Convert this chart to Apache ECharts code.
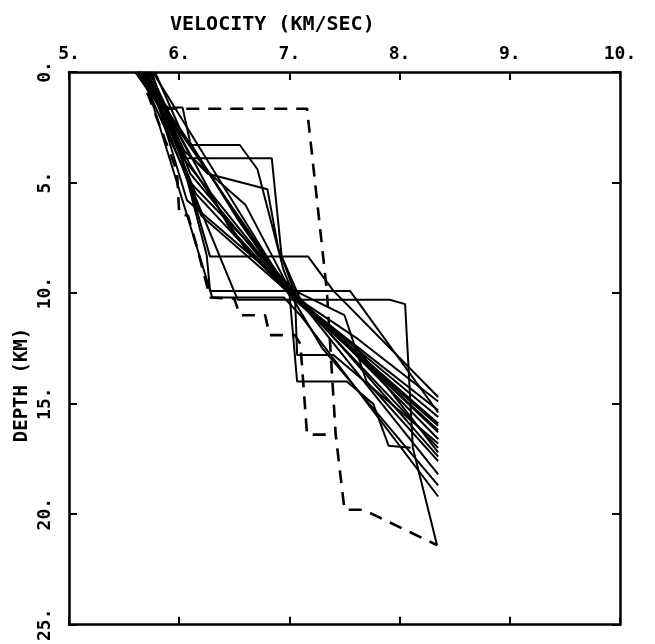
<!DOCTYPE html>
<html><head><meta charset="utf-8">
<script src="https://cdn.jsdelivr.net/npm/echarts@6/dist/echarts.min.js"></script>
<style>html,body{margin:0;padding:0;background:#fff}#c{width:655px;height:644px}</style>
</head><body><div id="c"></div>
<script>
// velocity (km/s) / depth (km) profiles
const xTicks = [5, 6, 7, 8, 9, 10];
const yTicks = [0, 5, 10, 15, 20, 25];
const xTitle = 'VELOCITY (KM/SEC)';
const yTitle = 'DEPTH (KM)';
const solidProfiles = [
  [[5.62,0],[5.87,1.6],[6.03,1.6],[6.1,3.2],[6.55,6.8],[7.0,10.0],[8.35,16.2]],
  [[5.66,0],[6.1,3.3],[6.55,3.3],[6.71,4.4],[6.95,9.0],[7.05,10.2],[8.35,15.6]],
  [[5.68,0],[6.05,3.9],[6.84,3.9],[6.93,8.35],[7.05,10.0],[8.35,16.6]],
  [[5.70,0],[6.0,3.5],[6.28,8.35],[7.17,8.35],[7.4,9.9],[8.35,14.7]],
  [[5.60,0],[5.95,2.5],[6.25,8.3],[6.28,9.9],[7.55,9.9],[8.35,15.4]],
  [[5.64,0],[6.05,4.5],[6.53,10.3],[7.91,10.3],[8.05,10.5],[8.12,17.0],[8.34,21.4]],
  [[5.72,0],[6.07,5.8],[7.05,10.0],[7.07,12.8],[7.4,12.8],[8.35,16.8]],
  [[5.74,0],[6.1,4.6],[7.0,10.0],[7.07,14.0],[7.52,14.0],[7.76,15.0],[7.9,16.9],[8.1,17.0]],
  [[5.70,0],[6.1,3.8],[6.26,4.6],[6.8,5.3],[6.9,8.0],[7.1,10.3],[8.35,17.4]],
  [[5.76,0],[7.0,10.0],[8.35,15.9]],
  [[5.63,0],[7.02,10.0],[8.35,17.0]],
  [[5.78,0],[6.0,2.5],[7.0,10.1],[8.35,16.0]],
  [[5.66,0],[6.05,4.0],[6.95,9.6],[7.1,10.4],[8.35,18.2]],
  [[5.70,0],[6.15,5.5],[6.95,9.8],[7.3,11.2],[8.35,15.3]],
  [[5.73,0],[6.02,3.0],[6.45,7.0],[7.0,10.0],[7.6,12.0],[8.35,14.9]],
  [[5.67,0],[5.98,5.0],[6.3,10.2],[6.95,10.2],[7.1,11.0],[8.35,19.2]],
  [[5.75,0],[6.1,5.0],[7.05,9.9],[7.5,11.0],[7.7,14.0],[8.35,17.6]],
  [[5.69,0],[6.2,6.5],[7.0,10.0],[7.3,12.5],[8.35,18.7]],
  [[5.71,0],[6.05,3.6],[6.6,6.0],[7.02,10.0],[8.35,16.3]],
  [[5.65,0],[6.1,4.2],[6.6,8.0],[7.05,10.2],[7.6,12.4],[8.35,17.2]]
];
const dashedProfiles = [
  [[5.62,0],[5.9,1.66],[7.16,1.66],[7.34,9.9],[7.42,16.4],[7.5,19.8],[7.67,19.8],[8.34,21.4]],
  [[5.64,0],[5.98,4.5],[6.0,6.4],[6.08,6.5],[6.16,7.9],[6.28,10.2],[6.5,10.25],[6.55,11.0],[6.78,11.0],[6.82,11.9],[7.05,11.9],[7.1,12.3],[7.16,16.4],[7.42,16.4]]
];

const chart = echarts.init(document.getElementById('c'), null, {renderer:'canvas'});
const FONT = 'DejaVu Sans Mono';
const series = [];
solidProfiles.forEach(p=>series.push({type:'line',data:p,showSymbol:false,silent:true,
  lineStyle:{color:'#000',width:2},z:3}));
dashedProfiles.forEach(p=>series.push({type:'line',data:p,showSymbol:false,silent:true,
  lineStyle:{color:'#000',width:2.6,type:[13,9]},z:3}));

chart.setOption({
  animation:false,
  backgroundColor:'#fff',
  title:{text:xTitle,left:165,top:10,textStyle:{fontFamily:FONT,fontWeight:'bold',fontSize:20,color:'#000'}},
  graphic:[{type:'text',x:22,y:385,rotation:Math.PI/2,silent:true,
    style:{text:yTitle,fontFamily:FONT,fontWeight:'bold',fontSize:19,fill:'#000',align:'center',verticalAlign:'middle'}}],
  grid:{left:69,top:72,width:551,height:557,show:false},
  xAxis:[{
    type:'value',position:'top',min:xTicks[0],max:xTicks[xTicks.length-1],interval:1,
    axisLine:{show:true,onZero:false,lineStyle:{color:'#000',width:2.5}},
    axisTick:{show:true,inside:true,length:8,lineStyle:{color:'#000',width:2}},
    axisLabel:{formatter:v=>v+'.',fontFamily:FONT,fontWeight:'bold',fontSize:18,color:'#000',margin:9},
    splitLine:{show:false}
  },{
    type:'value',position:'bottom',min:xTicks[0],max:xTicks[xTicks.length-1],interval:1,
    axisLine:{show:true,onZero:false,lineStyle:{color:'#000',width:2.5}},
    axisTick:{show:true,inside:true,length:8,lineStyle:{color:'#000',width:2}},
    axisLabel:{show:false},splitLine:{show:false}
  }],
  yAxis:[{
    type:'value',inverse:true,position:'left',min:yTicks[0],max:yTicks[yTicks.length-1],interval:5,
    axisLine:{show:true,onZero:false,lineStyle:{color:'#000',width:2.5}},
    axisTick:{show:true,inside:true,length:8,lineStyle:{color:'#000',width:2}},
    axisLabel:{formatter:v=>v+'.',rotate:90,fontFamily:FONT,fontWeight:'bold',fontSize:18,color:'#000',margin:15},
    splitLine:{show:false}
  },{
    type:'value',inverse:true,position:'right',min:yTicks[0],max:yTicks[yTicks.length-1],interval:5,
    axisLine:{show:true,onZero:false,lineStyle:{color:'#000',width:2.5}},
    axisTick:{show:true,inside:true,length:8,lineStyle:{color:'#000',width:2}},
    axisLabel:{show:false},splitLine:{show:false}
  }],
  series:series
});
</script></body></html>
